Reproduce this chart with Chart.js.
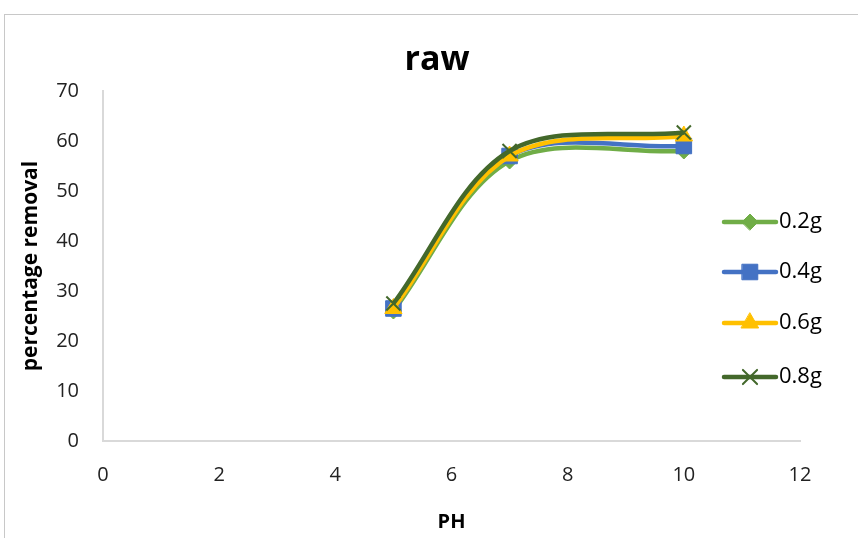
<!DOCTYPE html>
<html>
<head>
    <title>raw - percentage removal vs PH</title>
    <meta name="viewport" content="width=device-width, initial-scale=1.0">
    <style>
        body { margin: 0; background: #fff; overflow: hidden; }
        #frame { position: absolute; left: 4px; top: 14px; width: 900px; height: 600px; border: 1px solid #c8c8c8; }
        #wrap { position: absolute; left: 0; top: 0; width: 858px; height: 538px; }
    </style>
</head>

<body>
    <div id="frame"></div>
    <div id="wrap">
        <canvas id="lineChart" width="858" height="538"></canvas>
    </div>

    <!-- Chart.js -->
    <script src="https://cdn.jsdelivr.net/npm/chart.js"></script>

    <script>
        // data
        var phValues = [5, 7, 10];
        var seriesNames = ['0.2g', '0.4g', '0.6g', '0.8g'];
        var removal02 = [26, 56, 58];
        var removal04 = [26.5, 57, 59];
        var removal06 = [26.5, 57, 61];
        var removal08 = [27.5, 58, 61.7];
        var xTicks = [0, 2, 4, 6, 8, 10, 12];
        var yTicks = [0, 10, 20, 30, 40, 50, 60, 70];

        var colors = ['#70ad47', '#4472c4', '#ffc000', '#43682b'];
        var markers = ['rectRot', 'rect', 'triangle', 'crossRot'];
        var radii = [8, 11, 10, 10];
        var allValues = [removal02, removal04, removal06, removal08];

        var fontFam = '"Open Sans", Lato, sans-serif';

        var datasets = seriesNames.map(function (name, i) {
            return {
                label: name,
                data: phValues.map(function (x, k) { return { x: x, y: allValues[i][k] }; }),
                borderColor: colors[i],
                backgroundColor: colors[i],
                borderWidth: 4.5,
                pointStyle: markers[i],
                pointRadius: radii[i],
                pointBorderWidth: markers[i] === 'crossRot' ? 2 : 1,
                showLine: true,
                tension: 0.33,
                order: 3 - i
            };
        });

        // title + legend drawn by hand so they sit where Excel put them
        var extras = {
            id: 'extras',
            afterDraw: function (chart) {
                var ctx = chart.ctx;
                ctx.save();
                ctx.fillStyle = '#000';
                ctx.font = 'bold 34px ' + fontFam;
                ctx.textAlign = 'center';
                ctx.textBaseline = 'middle';
                ctx.fillText('raw', 437, 60);

                ctx.font = '22px ' + fontFam;
                ctx.textAlign = 'left';
                var rowY = [222, 272, 323, 377];
                seriesNames.forEach(function (name, i) {
                    var y = rowY[i];
                    ctx.strokeStyle = colors[i];
                    ctx.lineWidth = 4.5;
                    ctx.lineCap = 'round';
                    ctx.beginPath();
                    ctx.moveTo(724, y);
                    ctx.lineTo(776, y);
                    ctx.stroke();
                    ctx.fillStyle = colors[i];
                    ctx.strokeStyle = colors[i];
                    ctx.lineWidth = markers[i] === 'crossRot' ? 2 : 1;
                    Chart.helpers.drawPoint(ctx, { pointStyle: markers[i], radius: radii[i], borderWidth: ctx.lineWidth }, 750, y);
                    ctx.fillStyle = '#000';
                    ctx.fillText(name, 779, y);
                });
                ctx.restore();
            }
        };

        var ctx = document.getElementById('lineChart').getContext('2d');
        new Chart(ctx, {
            type: 'scatter',
            data: { datasets: datasets },
            plugins: [extras],
            options: {
                responsive: false,
                animation: false,
                layout: { padding: { top: 91, right: 58, left: 0, bottom: 0 } },
                plugins: {
                    legend: { display: false },
                    title: { display: false },
                    tooltip: { enabled: false }
                },
                scales: {
                    x: {
                        type: 'linear',
                        min: 0,
                        max: 12,
                        afterBuildTicks: function (scale) {
                            scale.ticks = xTicks.map(function (v) { return { value: v }; });
                        },
                        afterFit: function (scale) { scale.height = 97; },
                        grid: { display: false, drawTicks: false },
                        border: { display: true, color: '#d9d9d9', width: 2 },
                        ticks: { padding: 22, color: '#222', font: { family: fontFam, size: 20 } },
                        title: {
                            display: true,
                            text: 'PH',
                            color: '#000',
                            font: { family: fontFam, size: 20, weight: 'bold' },
                            padding: { top: 18 }
                        }
                    },
                    y: {
                        min: 0,
                        max: 70,
                        afterBuildTicks: function (scale) {
                            scale.ticks = yTicks.map(function (v) { return { value: v }; });
                        },
                        afterFit: function (scale) { scale.width = 103; },
                        grid: { display: false, drawTicks: false },
                        border: { display: true, color: '#d9d9d9', width: 2 },
                        ticks: { padding: 24, color: '#222', font: { family: fontFam, size: 20 } },
                        title: {
                            display: true,
                            text: 'percentage removal',
                            color: '#000',
                            font: { family: fontFam, size: 21, weight: 'bold' },
                            padding: { top: 18 }
                        }
                    }
                }
            }
        });
    </script>
</body>
</html>
